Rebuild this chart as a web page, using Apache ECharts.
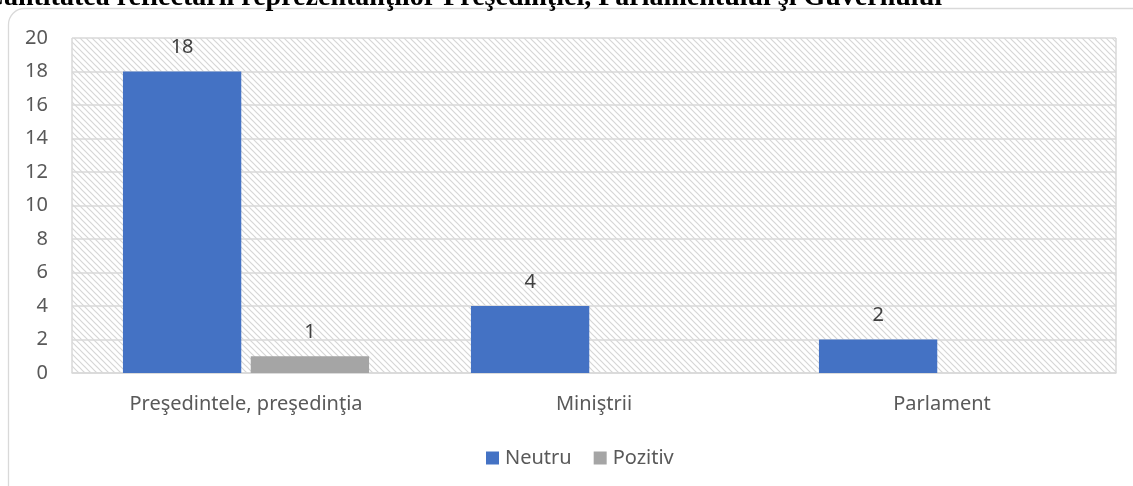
<!DOCTYPE html>
<html>
<head>
<meta charset="utf-8">
<script src="https://cdn.jsdelivr.net/npm/echarts@6/dist/echarts.min.js"></script>
<style>
  html, body { margin: 0; padding: 0; background: #fff; }
  #chart { width: 1133px; height: 486px; }
</style>
</head>
<body>
<div id="chart"></div>
<script>
const titleText = 'Cantitatea reflectării reprezentanţilor Preşedinţiei, Parlamentului şi Guvernului';
const categories = ['Preşedintele, preşedinţia', 'Miniştrii', 'Parlament'];
const neutru = [18, 4, 2];
const pozitiv = [1, null, null];
const yTicks = { min: 0, max: 20, interval: 2 };

// diagonal hatch tile for the plot background
function hatchTile() {
  const s = 6;
  const c = document.createElement('canvas');
  c.width = s; c.height = s;
  const g = c.getContext('2d');
  g.strokeStyle = '#d6d6d6';
  g.lineWidth = 1.2;
  g.beginPath();
  g.moveTo(-1, -1); g.lineTo(s + 1, s + 1);
  g.moveTo(-1, s - 1); g.lineTo(1, s + 1);
  g.moveTo(s - 1, -1); g.lineTo(s + 1, 1);
  g.stroke();
  return c;
}

const font = '"Noto Sans", "Open Sans", sans-serif';
const chart = echarts.init(document.getElementById('chart'), null, { renderer: 'canvas' });

chart.setOption({
  animation: false,
  graphic: [
    {
      type: 'rect',
      shape: { x: 8.5, y: 8.5, width: 1140, height: 500, r: 16 },
      style: { fill: 'none', stroke: '#d9d9d9', lineWidth: 1.3 },
      z: -10
    },
    {
      type: 'text',
      style: {
        x: 942, y: 12,
        text: titleText,
        align: 'right',
        verticalAlign: 'bottom',
        font: 'bold 28px "Liberation Serif", "Times New Roman", serif',
        fill: '#000'
      },
      z: 10
    }
  ],
  grid: {
    left: 72, right: 17, top: 38, bottom: 113,
    show: true,
    borderWidth: 0,
    backgroundColor: { image: hatchTile(), repeat: 'repeat' }
  },
  legend: {
    top: 443,
    left: 481,
    itemWidth: 13, itemHeight: 13,
    itemGap: 22,
    icon: 'rect',
    textStyle: { fontFamily: font, fontSize: 20, color: '#595959', padding: [0, 0, 0, 1] },
    data: ['Neutru', 'Pozitiv']
  },
  xAxis: {
    type: 'category',
    data: categories,
    axisLine: { lineStyle: { color: '#d9d9d9', width: 1.5 } },
    axisTick: { show: false },
    axisLabel: { fontFamily: font, fontSize: 20, color: '#595959', margin: 21 },
    splitLine: {
      show: true,
      interval: function (idx) { return idx === 2; },
      lineStyle: { color: '#d9d9d9', width: 1.5 }
    }
  },
  yAxis: {
    type: 'value',
    min: yTicks.min, max: yTicks.max, interval: yTicks.interval,
    axisLine: { show: false },
    axisTick: { show: false },
    axisLabel: { fontFamily: font, fontSize: 20, color: '#595959', margin: 24 },
    splitLine: { lineStyle: { color: '#d9d9d9', width: 1.5 } }
  },
  series: [
    {
      name: 'Neutru', type: 'bar', data: neutru,
      barWidth: '34%', barGap: '8%',
      itemStyle: { color: '#4472C4' },
      label: { show: true, position: 'top', distance: 14, fontFamily: font, fontSize: 20, color: '#404040' }
    },
    {
      name: 'Pozitiv', type: 'bar', data: pozitiv,
      barWidth: '34%',
      itemStyle: { color: '#A5A5A5' },
      label: { show: true, position: 'top', distance: 14, fontFamily: font, fontSize: 20, color: '#404040' }
    }
  ]
});
</script>
</body>
</html>
